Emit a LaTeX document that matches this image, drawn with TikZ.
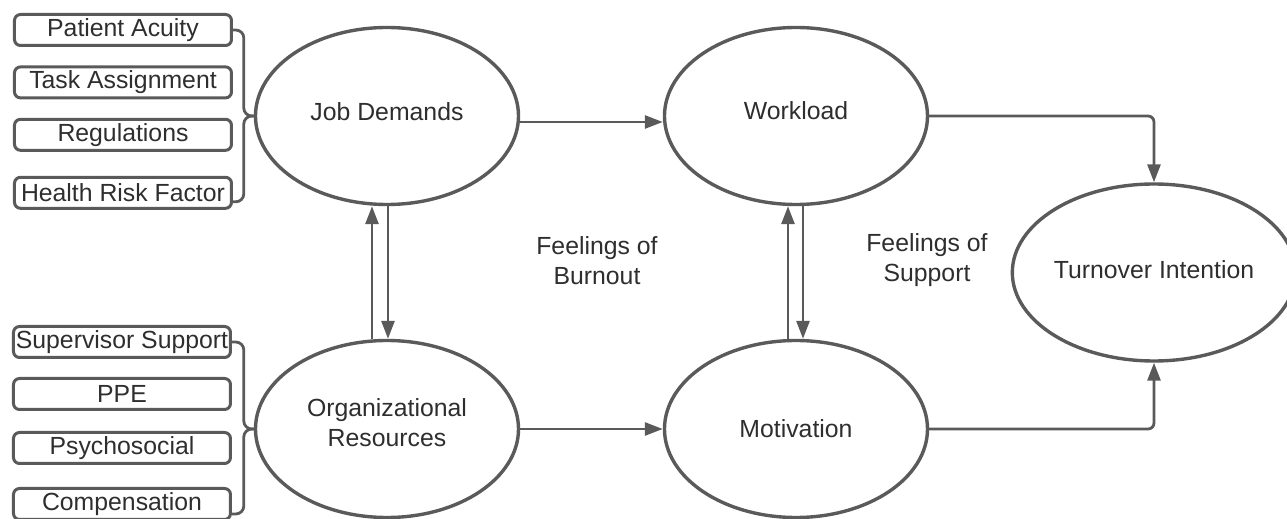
\documentclass[tikz,border=0pt]{standalone}
\usepackage{fontspec}
\setmainfont{Liberation Sans}
\usetikzlibrary{shapes,positioning,calc,arrows.meta}
\definecolor{linegray}{HTML}{5A5A5A}
\definecolor{textgray}{HTML}{2E2E2E}

\begin{document}
\begin{tikzpicture}[
    node distance=204.5pt,
    font=\fontsize{12.4}{15}\selectfont,
    text=textgray,
    >={Triangle[length=9pt,width=6.5pt]},
    construct/.style={ellipse,draw=linegray,line width=1.7pt,minimum width=131.5pt,minimum height=88.5pt,inner sep=0pt,align=center},
    factor/.style={rectangle,rounded corners=3pt,draw=linegray,line width=1.5pt,minimum width=108.5pt,minimum height=15.5pt,inner sep=0pt},
    link/.style={draw=linegray,line width=1.4pt},
    brace/.style={draw=linegray,line width=1.4pt,rounded corners=4pt}
    ]
        \useasboundingbox (-193.5pt,58pt) rectangle (450pt,-201.5pt);
        \node [construct](jd) at (0,0) {Job Demands\\[-11pt]};
        \node [construct](wl) [right of=jd] {Workload\\[-10pt]};
        \node [construct](or) [below of=jd, node distance=156.5pt] {Organizational\\Resources\\[-9pt]};
        \node [construct](mo) [right of=or] {Motivation};
        \node [construct](ti) at ($(wl)!0.5!(mo)+(179pt,0)$) {Turnover Intention\\[-12pt]};
        \node (burnout) [align=center] at ($(jd)!0.5!(mo)+(2.75pt,6pt)$) {Feelings of\\Burnout};
        \node (support) [align=center] at ($(wl)!0.5!(mo)+(65.5pt,6pt)$) {Feelings of\\Support};
        % job demand factors
        \node [factor](pa) at ($(jd)+(-132pt,43pt)$) {Patient Acuity};
        \node [factor](ta) [below=9.2pt of pa] {Task Assignment};
        \node [factor](rg) [below=9.2pt of ta] {Regulations};
        \node [factor](hr) [below=12pt of rg] {Health Risk Factor};
        % resource factors
        \node [factor](ss) at ($(or)+(-132.5pt,43.5pt)$) {Supervisor Support};
        \node [factor](ppe) [below=9pt of ss] {PPE};
        \node [factor](ps) [below=10pt of ppe] {Psychosocial};
        \node [factor](co) [below=11pt of ps] {Compensation};
        \draw [brace] (pa.east) -| ([xshift=-5pt]jd.west) -- (jd.west);
        \draw [brace] ([yshift=-4.5pt]hr.east) -| ([xshift=-5pt]jd.west) -- (jd.west);
        \draw [brace] (ss.east) -| ([xshift=-5pt]or.west) -- (or.west);
        \draw [brace] ([yshift=-5pt]co.east) -| ([xshift=-5pt]or.west) -- (or.west);
        \draw [->, link] ([yshift=-3pt]jd.east) -- ([yshift=-3pt]wl.west);
        \draw [->, link] (or.east) -- (mo.west);
        \draw [->, link] ([xshift=-7.5pt]or.north) -- ([xshift=-7.5pt]jd.south);
        \draw [->, link] ([xshift=0.5pt]jd.south) -- ([xshift=0.5pt]or.north);
        \draw [->, link] ([xshift=-4pt]mo.north) -- ([xshift=-4pt]wl.south);
        \draw [->, link] ([xshift=3.5pt]wl.south) -- ([xshift=3.5pt]mo.north);
        \draw [->, link, rounded corners=3pt] (wl.east) -| (ti.north);
        \draw [->, link, rounded corners=3pt] (mo.east) -| (ti.south);
        % \draw [->] (burnout) edge (support);
\end{tikzpicture}
\end{document}
